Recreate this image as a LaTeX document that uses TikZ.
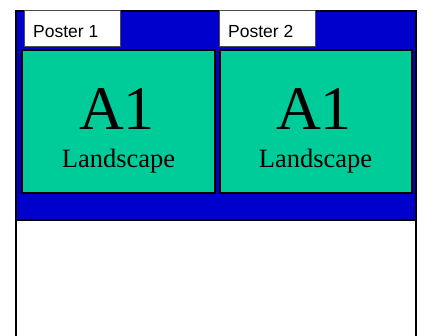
\documentclass[tikz,border=0pt]{standalone}
\usepackage{fontspec}
\setmainfont{Liberation Serif}
\newfontfamily\arialfont{Liberation Sans}
\definecolor{posterblue}{RGB}{0,0,204}
\definecolor{postergreen}{RGB}{0,204,153}
\begin{document}
\begin{tikzpicture}[x=1pt,y=-1pt,
  greenbox/.style={draw=black,line width=2pt,fill=postergreen},
  labelbox/.style={draw=black!70,line width=1pt,fill=white},
  labeltext/.style={anchor=base west,inner sep=0pt,font=\arialfont\fontsize{17.5}{20}\selectfont},
  bigtext/.style={anchor=base,inner sep=0pt,font=\fontsize{62}{70}\selectfont},
  subtext/.style={anchor=base,inner sep=0pt,font=\fontsize{26.5}{30}\selectfont}]
\useasboundingbox (0,0) rectangle (423,336);
% white lower part with side walls
\draw[line width=2pt] (16,220) -- (16,337);
\draw[line width=2pt] (416,220) -- (416,337);
% blue band
\draw[line width=2pt,fill=posterblue] (16,11) rectangle (416,220);
% poster areas
\draw[greenbox] (22,50) rectangle (215,193);
\draw[greenbox] (219.5,50) rectangle (412,193);
% label boxes
\draw[labelbox] (24,11) rectangle (120,47);
\draw[labelbox] (219,11) rectangle (315,47);
\node[labeltext] (l1) at (33,37.7) {Poster 1};
\node[labeltext] (l2) at (228,37.7) {Poster 2};
\node[bigtext] (a1) at (117,130) {A1};
\node[bigtext] (a2) at (314,130) {A1};
\node[subtext] (s1) at (118.5,168) {Landscape};
\node[subtext] (s2) at (315.5,168) {Landscape};
\end{tikzpicture}
\end{document}
